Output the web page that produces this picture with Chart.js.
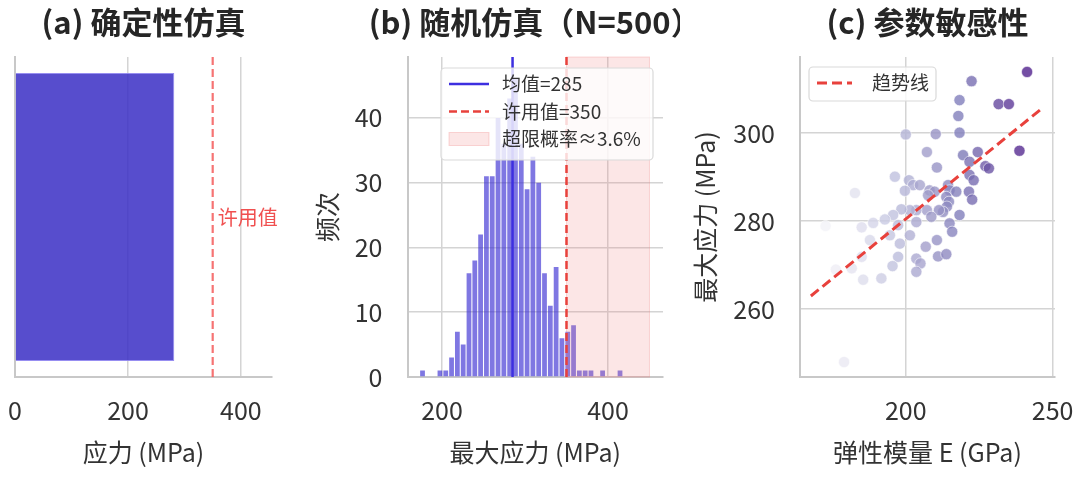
<!DOCTYPE html>
<html>
<head>
<meta charset="utf-8">
<script src="https://cdn.jsdelivr.net/npm/chart.js@4.4.1/dist/chart.umd.min.js"></script>
<style>
  body { margin: 0; background: #fff; width: 1080px; height: 477px; overflow: hidden; position: relative; }
  .panel { position: absolute; top: 0; }
</style>
</head>
<body>
<div class="panel" style="left:0px"><canvas id="chartA" width="290" height="477"></canvas></div>
<div class="panel" style="left:290px"><canvas id="chartB" width="390" height="477"></canvas></div>
<div class="panel" style="left:680px"><canvas id="chartC" width="400" height="477"></canvas></div>
<script>
// (a) 确定性仿真
const detLabels = ['确定性'];
const detStress = [282];
const allowStress = 350;
const detTicks = [0, 200, 400];

// (b) 随机仿真 — 直方图，每格 7 MPa
const binStart = 173;
const binWidth = 7;
const histCounts = [1, 0, 0, 1, 1, 3, 7, 5, 16, 18, 22, 31, 31, 40, 36, 43, 46, 36,
                    29, 34, 30, 16, 11, 17, 6, 7, 8, 1, 1, 1, 0, 1, 0, 0, 1];
const meanStress = 285;
const exceedProb = 3.6;
const spanEnd = 450;
const histXTicks = [200, 400];
const histYTicks = [0, 10, 20, 30, 40];

// (c) 参数敏感性
const modulusE = [241.3, 222.4, 231.6, 235.1, 218.3, 217.9, 218.3, 210.2, 200.0, 238.7, 172.7, 176.2, 179.0,
                  182.7, 196.3, 207.2, 210.6, 219.5, 221.7, 224.5, 227.1, 228.3, 221.7, 223.1, 201.1, 202.5,
                  204.8, 199.7, 208.1, 209.8, 214.4, 214.9, 217.2, 221.5, 222.6, 213.8, 214.7, 214.0, 212.7,
                  211.3, 207.2, 208.7, 218.3, 203.6, 201.4, 198.5, 195.7, 192.9, 188.9, 185.0, 203.6, 201.4,
                  197.4, 194.6, 198.0, 187.8, 214.9, 215.8, 210.6, 206.8, 203.6, 205.0, 211.0, 213.8, 197.4,
                  195.5, 203.6, 191.7, 185.5, 185.0, 181.6, 207.6];
const maxStress = [313.9, 311.8, 306.6, 306.6, 307.5, 303.9, 300.1, 299.8, 299.7, 296.0, 278.9, 269.0, 248.0,
                   286.4, 290.1, 295.7, 292.2, 295.0, 293.5, 295.7, 292.5, 292.0, 290.5, 289.3, 289.3, 288.2,
                   288.2, 286.9, 287.0, 286.7, 288.2, 287.0, 286.7, 286.7, 284.9, 285.5, 284.4, 283.3, 282.1,
                   282.5, 282.5, 281.0, 281.4, 282.5, 282.5, 282.7, 281.4, 280.4, 279.6, 278.6, 279.8, 276.8,
                   279.1, 276.8, 274.9, 275.7, 279.5, 277.6, 275.7, 274.2, 271.5, 270.4, 272.0, 272.5, 271.9,
                   269.8, 268.5, 267.0, 266.7, 271.9, 269.3, 285.9];
const trendE = [167.7, 246.5];
const trendS = [263.0, 305.7];
const eTicks = [200, 250];
const sTicks = [260, 280, 300];

const FONT = '"Noto Sans CJK SC", "Noto Sans", sans-serif';
Chart.defaults.font.family = FONT;
Chart.defaults.color = '#333333';
Chart.defaults.animation = false;

const GRID = { color: '#d4d4d4', lineWidth: 1.5, drawTicks: false, offset: false };
const BORDER = { color: '#c8c8c8', width: 2 };
const TICK_FONT = { size: 25 };
const TITLE_FONT = { size: 25 };
const fixTicks = vals => s => { s.ticks = vals.map(v => ({ value: v })); };

// purples colour ramp for the scatter
const PURPLES = [[252,251,253],[239,237,245],[218,218,235],[188,189,220],[158,154,200],
                 [128,125,186],[106,81,163],[84,39,143],[63,0,125]];
function purple(e) {
  let t = Math.min(1, Math.max(0, (e - 170) / 72));
  t = 0.05 + 0.85 * t;
  const p = t * 8, i = Math.min(7, Math.floor(p)), f = p - i;
  const c = PURPLES[i].map((v, k) => Math.round(v + (PURPLES[i + 1][k] - v) * f));
  return `rgba(${c[0]},${c[1]},${c[2]},0.8)`;
}

// panel title above the plot area
const panelTitle = {
  id: 'panelTitle',
  afterDraw(chart, args, o) {
    const ctx = chart.ctx, a = chart.chartArea;
    ctx.save();
    ctx.font = `bold 31px ${FONT}`;
    ctx.fillStyle = '#262626';
    ctx.textAlign = 'center';
    ctx.textBaseline = 'middle';
    ctx.fillText(o.text, (a.left + a.right) / 2, 22);
    ctx.restore();
  }
};

// shaded span + vertical reference lines + label
const refLines = {
  id: 'refLines',
  afterDatasetsDraw(chart, args, o) {
    const ctx = chart.ctx, a = chart.chartArea, x = chart.scales.x;
    ctx.save();
    if (o.span) {
      const x0 = x.getPixelForValue(o.span.from), x1 = x.getPixelForValue(o.span.to);
      ctx.fillStyle = o.span.color;
      ctx.fillRect(x0, a.top, x1 - x0, a.bottom - a.top);
      ctx.strokeStyle = o.span.edge;
      ctx.lineWidth = 1;
      ctx.strokeRect(x0, a.top, x1 - x0, a.bottom - a.top);
    }
    (o.lines || []).forEach(l => {
      const px = x.getPixelForValue(l.value);
      ctx.strokeStyle = l.color;
      ctx.lineWidth = l.width;
      ctx.setLineDash(l.dash || []);
      ctx.beginPath();
      ctx.moveTo(px, a.top);
      ctx.lineTo(px, a.bottom);
      ctx.stroke();
    });
    if (o.label) {
      ctx.setLineDash([]);
      ctx.font = `${o.label.size}px ${FONT}`;
      ctx.fillStyle = o.label.color;
      ctx.textAlign = 'left';
      ctx.textBaseline = 'middle';
      ctx.fillText(o.label.text, x.getPixelForValue(o.label.value) + o.label.dx, (a.top + a.bottom) / 2);
    }
    ctx.restore();
  }
};

// matplotlib-like legend box inside the axes
const boxLegend = {
  id: 'boxLegend',
  afterDraw(chart, args, o) {
    if (!o.rows) return;
    const ctx = chart.ctx, a = chart.chartArea;
    const bx = a.left + o.left, by = a.top + o.top;
    ctx.save();
    ctx.beginPath();
    ctx.roundRect(bx, by, o.width, o.height, 4);
    ctx.fillStyle = 'rgba(255,255,255,0.8)';
    ctx.fill();
    ctx.strokeStyle = '#d9d9d9';
    ctx.lineWidth = 1.2;
    ctx.stroke();
    o.rows.forEach((r, i) => {
      const cy = by + o.rowY + i * o.rowGap;
      if (r.kind === 'rect') {
        ctx.fillStyle = r.color;
        ctx.fillRect(bx + o.swX, cy - 6.5, o.swW, 13);
        ctx.strokeStyle = r.edge;
        ctx.lineWidth = 1;
        ctx.strokeRect(bx + o.swX, cy - 6.5, o.swW, 13);
      } else {
        ctx.strokeStyle = r.color;
        ctx.lineWidth = r.width;
        ctx.setLineDash(r.dash || []);
        ctx.beginPath();
        ctx.moveTo(bx + o.swX, cy);
        ctx.lineTo(bx + o.swX + o.swW, cy);
        ctx.stroke();
        ctx.setLineDash([]);
      }
      ctx.font = `19px ${FONT}`;
      ctx.fillStyle = '#333333';
      ctx.textAlign = 'left';
      ctx.textBaseline = 'middle';
      ctx.fillText(r.text, bx + o.textX, cy);
    });
    ctx.restore();
  }
};

const bottomAxis = (min, max, ticks, title) => ({
  type: 'linear', min, max, offset: false,
  afterBuildTicks: fixTicks(ticks),
  afterFit: s => { s.height = 100; s.paddingLeft = 0; s.paddingRight = 0; },
  grid: GRID, border: BORDER,
  ticks: { font: TICK_FONT, padding: 18, color: '#333333' },
  title: { display: true, text: title, font: TITLE_FONT, color: '#333333', padding: { top: 0, bottom: 10 } }
});

// (a)
new Chart(document.getElementById('chartA'), {
  type: 'bar',
  data: {
    labels: detLabels,
    datasets: [{
      data: detStress,
      backgroundColor: 'rgba(57,46,196,0.85)',
      borderColor: 'rgba(140,130,240,0.9)',
      borderWidth: 1,
      categoryPercentage: 1,
      barPercentage: 0.9
    }]
  },
  options: {
    indexAxis: 'y',
    responsive: false,
    layout: { padding: { left: 15, right: 18, top: 57, bottom: 0 } },
    scales: {
      x: bottomAxis(0, 455, detTicks, '应力 (MPa)'),
      y: {
        afterFit: s => { s.width = 0; },
        grid: { display: false }, border: BORDER,
        ticks: { display: false }
      }
    },
    plugins: {
      legend: { display: false }, tooltip: { enabled: false },
      panelTitle: { text: '(a) 确定性仿真' },
      refLines: {
        lines: [{ value: allowStress, color: 'rgba(244,90,90,0.85)', width: 2.2, dash: [8, 4] }],
        label: { text: '许用值', value: allowStress, dx: 5, size: 20, color: '#f05050' }
      }
    }
  },
  plugins: [panelTitle, refLines]
});

// (b)
const histData = histCounts.map((c, i) => ({ x: binStart + (i + 0.5) * binWidth, y: c }));
new Chart(document.getElementById('chartB'), {
  type: 'bar',
  data: {
    datasets: [{
      data: histData,
      backgroundColor: 'rgba(58,46,210,0.65)',
      borderWidth: 0,
      categoryPercentage: 1,
      barPercentage: 0.82
    }]
  },
  options: {
    responsive: false,
    layout: { padding: { left: 0, right: 17, top: 57, bottom: 0 } },
    scales: {
      x: bottomAxis(158.4, 466.3, histXTicks, '最大应力 (MPa)'),
      y: {
        type: 'linear', min: 0, max: 49.4,
        afterBuildTicks: fixTicks(histYTicks),
        afterFit: s => { s.width = 117.5; },
        grid: GRID, border: BORDER,
        ticks: { font: TICK_FONT, padding: 25, color: '#333333' },
        title: { display: true, text: '频次', font: TITLE_FONT, color: '#333333', padding: { top: 22, bottom: 0 } }
      }
    },
    plugins: {
      legend: { display: false }, tooltip: { enabled: false },
      panelTitle: { text: '(b) 随机仿真（N=500）' },
      refLines: {
        span: { from: allowStress, to: spanEnd, color: 'rgba(240,128,128,0.2)', edge: 'rgba(240,128,128,0.3)' },
        lines: [
          { value: meanStress, color: '#3d2fe0', width: 2.5 },
          { value: allowStress, color: '#e8413c', width: 2.5, dash: [8, 4] }
        ]
      },
      boxLegend: {
        left: 33.5, top: 11, width: 212, height: 92, rowY: 16, rowGap: 27.5, swX: 8, swW: 40, textX: 61,
        rows: [
          { kind: 'line', color: '#3d2fe0', width: 2.5, text: `均值=${meanStress}` },
          { kind: 'line', color: '#e8413c', width: 2.5, dash: [8, 4], text: `许用值=${allowStress}` },
          { kind: 'rect', color: 'rgba(240,128,128,0.2)', edge: 'rgba(240,128,128,0.3)', text: `超限概率≈${exceedProb}%` }
        ]
      }
    }
  },
  plugins: [panelTitle, refLines, boxLegend]
});

// (c)
new Chart(document.getElementById('chartC'), {
  type: 'scatter',
  data: {
    datasets: [
      {
        type: 'line',
        data: trendE.map((e, i) => ({ x: e, y: trendS[i] })),
        borderColor: '#e8413c', borderWidth: 3, borderDash: [10, 5],
        pointRadius: 0, fill: false
      },
      {
        data: modulusE.map((e, i) => ({ x: e, y: maxStress[i] })),
        backgroundColor: modulusE.map(purple),
        borderColor: 'rgba(255,255,255,0.7)',
        borderWidth: 0.8,
        pointRadius: 5.6
      }
    ]
  },
  options: {
    responsive: false,
    layout: { padding: { left: 0, right: 25, top: 57, bottom: 0 } },
    scales: {
      x: bottomAxis(164, 250.8, eTicks, '弹性模量 E (GPa)'),
      y: {
        type: 'linear', min: 244.6, max: 317.3,
        afterBuildTicks: fixTicks(sTicks),
        afterFit: s => { s.width = 120; },
        grid: GRID, border: BORDER,
        ticks: { font: TICK_FONT, padding: 25, color: '#333333' },
        title: { display: true, text: '最大应力 (MPa)', font: TITLE_FONT, color: '#333333', padding: { top: 10, bottom: 0 } }
      }
    },
    plugins: {
      legend: { display: false }, tooltip: { enabled: false },
      panelTitle: { text: '(c) 参数敏感性' },
      boxLegend: {
        left: 9, top: 10, width: 127, height: 34, rowY: 16, rowGap: 0, swX: 8, swW: 35, textX: 63,
        rows: [{ kind: 'line', color: '#e8413c', width: 3, dash: [10, 5], text: '趋势线' }]
      }
    }
  },
  plugins: [panelTitle, boxLegend]
});
</script>
</body>
</html>
